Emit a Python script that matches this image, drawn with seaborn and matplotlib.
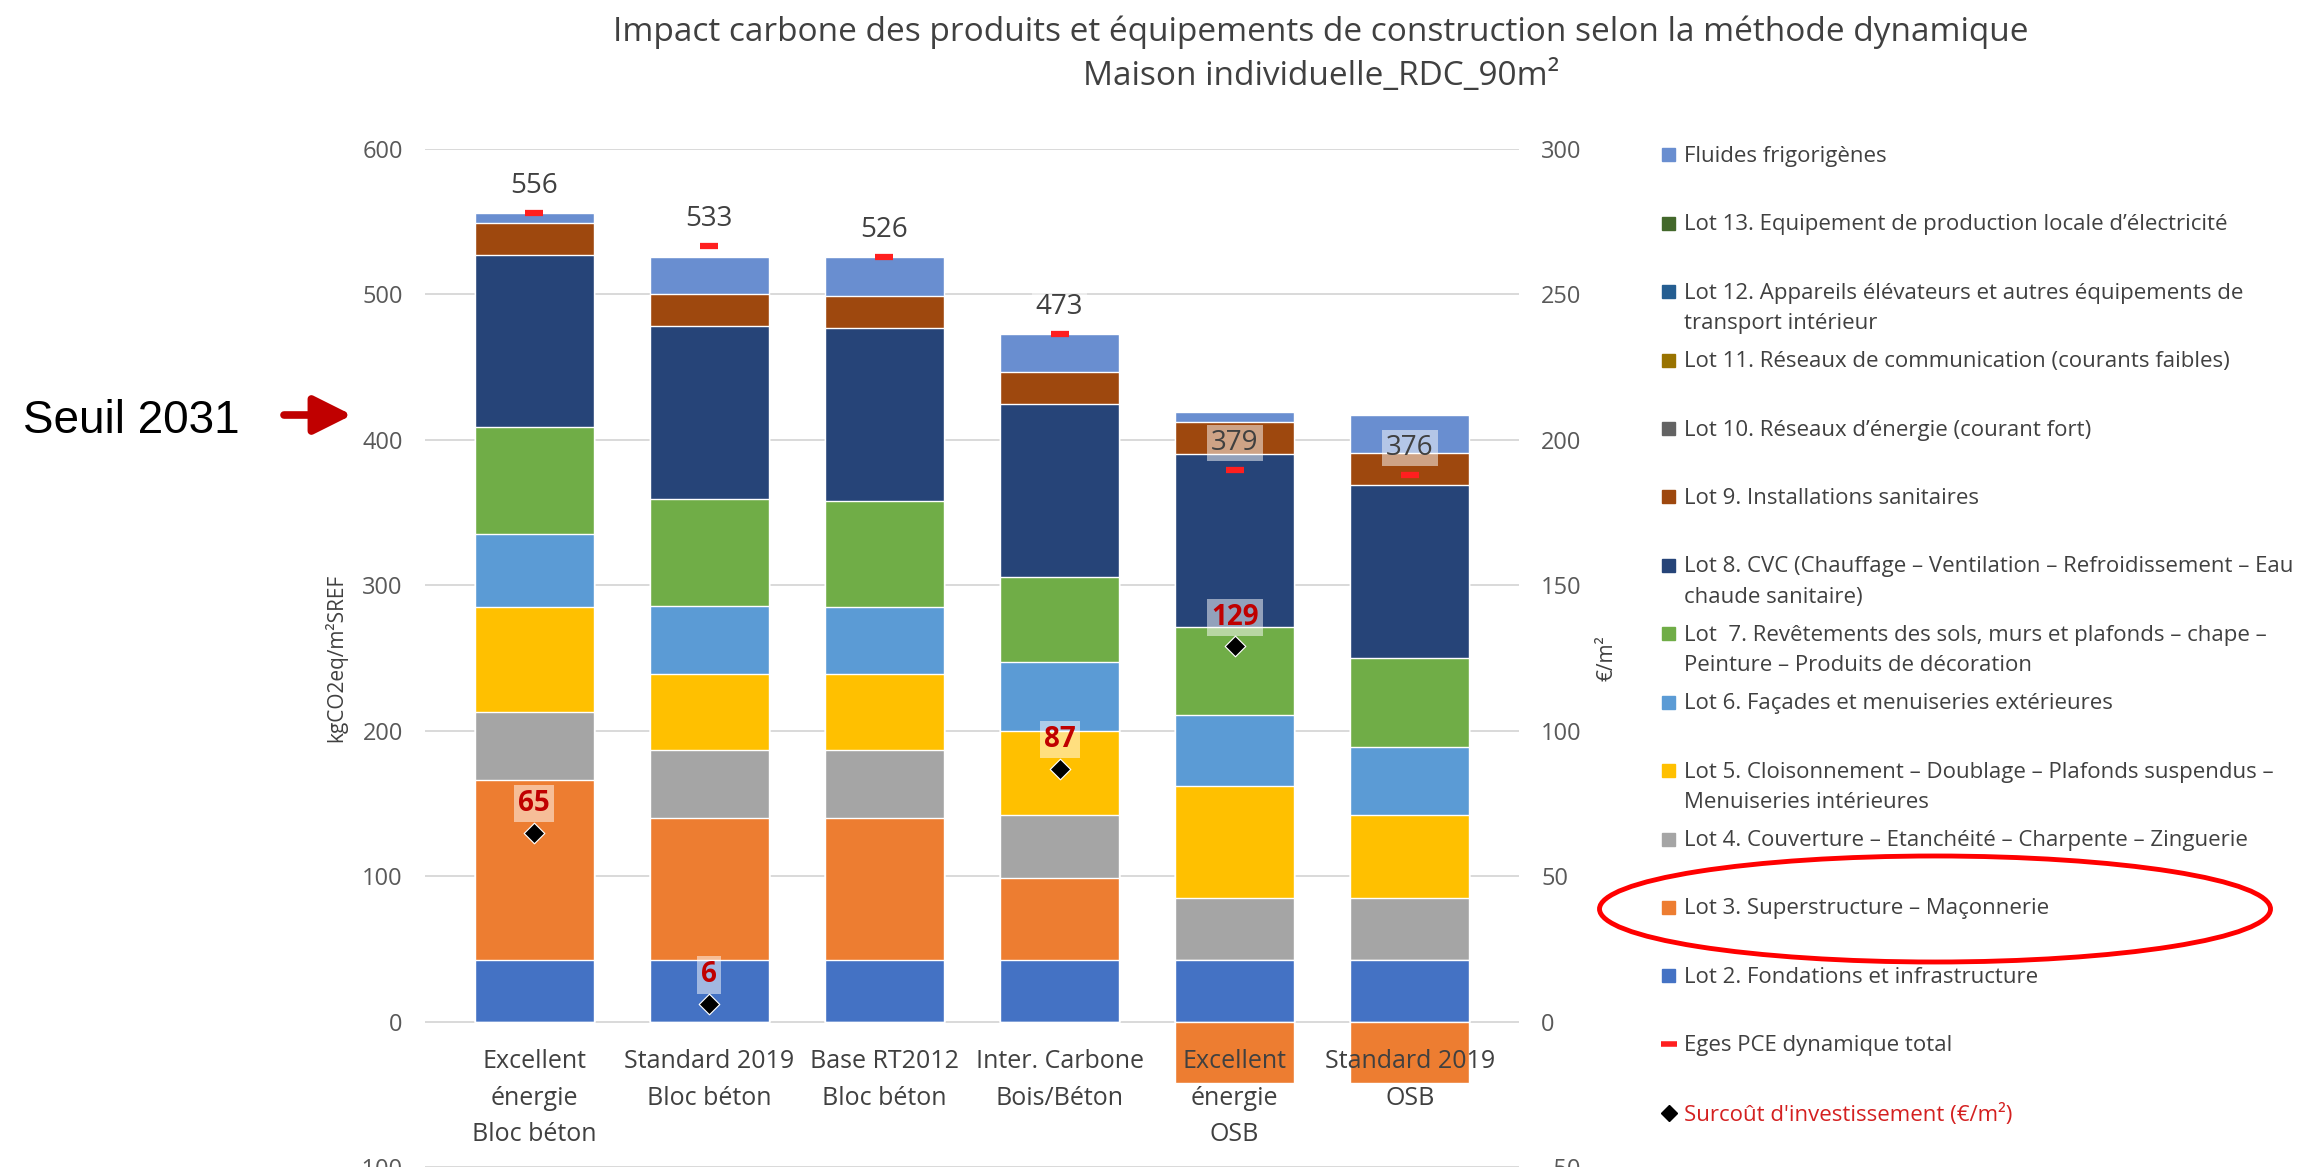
import numpy as np
import seaborn as sns
import matplotlib.pyplot as plt
from matplotlib.patches import Ellipse, Rectangle
from matplotlib.lines import Line2D

# ---- data (kgCO2eq/m2 SREF) ----
categories = ["Excellent\nénergie\nBloc béton", "Standard 2019\nBloc béton", "Base RT2012\nBloc béton",
              "Inter. Carbone\nBois/Béton", "Excellent\nénergie\nOSB", "Standard 2019\nOSB"]

lot2 = [42, 42, 42, 42, 42, 42]
lot3 = [124, 98, 98, 57, -42, -42]
lot4 = [47, 47, 47, 43, 43, 43]
lot5 = [72, 52, 52, 58, 77, 57]
lot6 = [50, 47, 46, 47, 49, 47]
lot7 = [74, 73, 73, 59, 60, 61]
lot8 = [118, 119, 119, 119, 119, 119]
lot9 = [22, 22, 22, 22, 22, 22]
lot10 = [0, 0, 0, 0, 0, 0]
lot11 = [0, 0, 0, 0, 0, 0]
lot12 = [0, 0, 0, 0, 0, 0]
lot13 = [0, 0, 0, 0, 0, 0]
fluides = [7, 26, 27, 26, 7, 26]

eges_total = [556, 533, 526, 473, 379, 376]
surcout = [65, 6, np.nan, 87, 129, np.nan]   # €/m2, right axis

series_names = ["Lot 2. Fondations et infrastructure",
                "Lot 3. Superstructure – Maçonnerie",
                "Lot 4. Couverture – Etanchéité – Charpente – Zinguerie",
                "Lot 5. Cloisonnement – Doublage – Plafonds suspendus –\nMenuiseries intérieures",
                "Lot 6. Façades et menuiseries extérieures",
                "Lot  7. Revêtements des sols, murs et plafonds – chape –\nPeinture – Produits de décoration",
                "Lot 8. CVC (Chauffage – Ventilation – Refroidissement – Eau\nchaude sanitaire)",
                "Lot 9. Installations sanitaires",
                "Lot 10. Réseaux d’énergie (courant fort)",
                "Lot 11. Réseaux de communication (courants faibles)",
                "Lot 12. Appareils élévateurs et autres équipements de\ntransport intérieur",
                "Lot 13. Equipement de production locale d’électricité",
                "Fluides frigorigènes"]
series_values = [lot2, lot3, lot4, lot5, lot6, lot7, lot8, lot9, lot10, lot11, lot12, lot13, fluides]
colors = ["#4472C4", "#ED7D31", "#A5A5A5", "#FFC000", "#5B9BD5", "#70AD47", "#264478",
          "#9E480E", "#636363", "#997300", "#255E91", "#43682B", "#698ED0"]

sns.set_theme(style="white")
plt.rcParams['font.family'] = ['Open Sans', 'DejaVu Sans']

W, H = 2313, 1167
fig = plt.figure(figsize=(W / 100, H / 100), dpi=100)
ax = fig.add_axes([425 / W, 0.0, 1094 / W, 1 - 149 / H])

# stacked bars: overlay cumulative sums, tallest first
cum = np.zeros(len(categories))
layers = []
for vals, col in zip(series_values, colors):
    v = np.array(vals, dtype=float)
    cum = cum + np.clip(v, 0, None)
    if np.any(v > 0):
        layers.append((cum.copy(), col))
for top, col in reversed(layers):
    sns.barplot(x=categories, y=top, color=col, saturation=1, width=0.68,
                errorbar=None, ax=ax)
neg = np.clip(np.array(lot3, dtype=float), None, 0)
sns.barplot(x=categories, y=neg, color=colors[1], saturation=1, width=0.68,
            errorbar=None, ax=ax)

pos = np.arange(len(categories))
ax.plot(pos, eges_total, ls='none', marker='_', ms=13, mew=4.5, color='#FF1F1F', zorder=5)
for i, t in enumerate(eges_total):
    ax.annotate(f"{t}", (i, t), xytext=(0, 19.5), textcoords='offset points',
                ha='center', va='center', fontsize=20, color='#404040', zorder=6,
                bbox=dict(boxstyle='square,pad=0.15', fc='white', ec='none', alpha=0.5))

ax.set_ylim(-100, 600)
ax.set_yticks(range(-100, 601, 100))
ax.grid(axis='y', color='#D9D9D9', lw=1.4)
ax.set_axisbelow(True)
ax.xaxis.set_zorder(3)   # category labels above the negative bars
for s in ['top', 'left', 'right']:
    ax.spines[s].set_visible(False)
ax.spines['bottom'].set_position(('data', 0))
ax.spines['bottom'].set_color('none')
ax.set_xticks(pos, labels=categories, linespacing=1.6)
ax.tick_params(axis='x', length=0, pad=20, labelsize=18, labelcolor='#404040')
ax.tick_params(axis='y', length=0, pad=16, labelsize=17, labelcolor='#595959')
ax.set_xlabel("")
ax.set_ylabel("kgCO2eq/m²SREF", fontsize=15, color='#404040')
ax.yaxis.set_label_coords(-0.071, 0.5)

# right axis: investment overcost
ax2 = ax.twinx()
sns.scatterplot(x=pos, y=surcout, marker='D', color='black', s=110, ax=ax2, zorder=6)
for i, c in enumerate(surcout):
    if not np.isnan(c):
        ax2.annotate(f"{c:.0f}", (i, c), xytext=(0, 21), textcoords='offset points',
                     ha='center', va='center', fontsize=20, color='#C00000',
                     fontweight='bold', zorder=7,
                     bbox=dict(boxstyle='square,pad=0.15', fc='white', ec='none', alpha=0.5))
ax2.set_ylim(-50, 300)
ax2.set_yticks(range(-50, 301, 50))
for s in ax2.spines.values():
    s.set_visible(False)
ax2.tick_params(axis='y', length=0, pad=16, labelsize=17, labelcolor='#595959')
ax2.set_ylabel("€/m²", fontsize=15, color='#404040')
ax2.yaxis.set_label_coords(1.071, 0.5)
ax2.grid(False)

# title
fig.text(0.571, 1 - 32 / H, "Impact carbone des produits et équipements de construction selon la méthode dynamique",
         ha='center', va='center', fontsize=24, color='#404040')
fig.text(0.571, 1 - 76 / H, "Maison individuelle_RDC_90m²",
         ha='center', va='center', fontsize=24, color='#404040')

# legend (manual, Excel-style spacing)
lx_box, lx_txt = 1662 / W, 1684 / W
y0, step = 1 - 155 / H, 68.4 / H
entries = list(zip(series_names, colors))[::-1]
for k, (name, col) in enumerate(entries):
    y = y0 - k * step
    fig.add_artist(Rectangle((lx_box, y - 6.5 / H), 13 / W, 13 / H, color=col,
                             transform=fig.transFigure))
    fig.text(lx_txt, y + 9 / H, name, ha='left', va='top', fontsize=16,
             color='#404040', linespacing=1.6)
k = len(entries)
y = y0 - k * step
fig.add_artist(Line2D([lx_box + 6.5 / W], [y], marker='_', ms=11, mew=4, color='#FF1F1F',
                      transform=fig.transFigure))
fig.text(lx_txt, y + 9 / H, "Eges PCE dynamique total", ha='left', va='top',
         fontsize=16, color='#404040')
y = y0 - (k + 1) * step
fig.add_artist(Line2D([lx_box + 6.5 / W], [y], marker='D', ms=8, color='black',
                      transform=fig.transFigure))
fig.text(lx_txt, y + 9 / H, "Surcoût d'investissement (€/m²)", ha='left', va='top',
         fontsize=16, color='#D42020')

# highlight ellipse around Lot 3
fig.add_artist(Ellipse((1935 / W, 1 - 909 / H), 671 / W, 106 / H, fill=False,
                       ec='#FF0000', lw=3.5, transform=fig.transFigure))

# Seuil 2031 annotation
fig.text(23 / W, 1 - 433 / H, "Seuil 2031", ha='left', va='baseline', fontsize=33,
         family=['Liberation Sans', 'DejaVu Sans'], color='black')
ax.annotate("", xy=(352 / W, 1 - 415 / H), xytext=(284 / W, 1 - 415 / H),
            xycoords='figure fraction', textcoords='figure fraction',
            arrowprops=dict(arrowstyle='-|>,head_length=0.7,head_width=0.35',
                            color='#C00000', lw=5.5, mutation_scale=33,
                            shrinkA=0, shrinkB=0))

fig.savefig("out.png", dpi=100)
